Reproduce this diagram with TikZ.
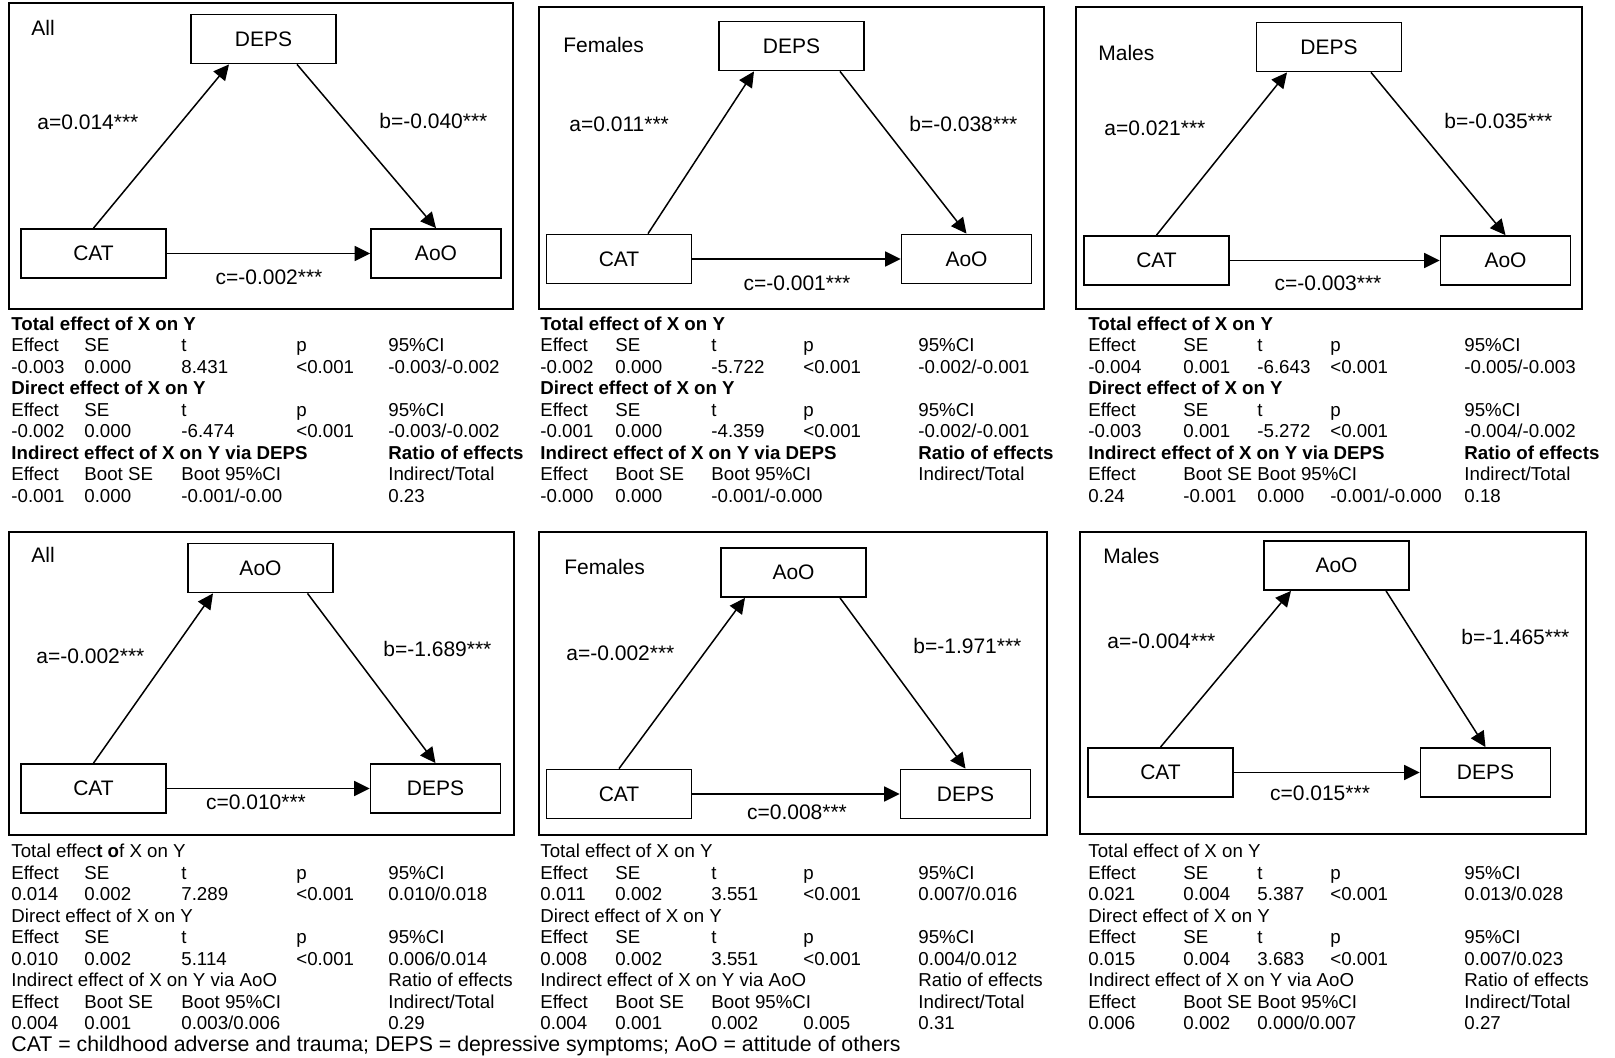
\documentclass[tikz,border=0pt]{standalone}
\usepackage{fontspec}
\setmainfont{Liberation Sans}
\usepackage{array}
\usetikzlibrary{arrows.meta}
\setlength{\tabcolsep}{0pt}
\newcolumntype{L}{@{}w{l}{36.5pt}w{l}{48.5pt}w{l}{57.5pt}w{l}{46pt}l@{}}
\newcolumntype{M}{@{}w{l}{37.5pt}w{l}{48pt}w{l}{46pt}w{l}{57.5pt}l@{}}
\newcolumntype{R}{@{}w{l}{47.5pt}w{l}{37pt}w{l}{36.5pt}w{l}{67pt}l@{}}
\begin{document}
\begin{tikzpicture}[x=0.5pt,y=-0.5pt,
		panel/.style={draw,line width=0.9pt},
		var/.style={draw,line width=0.9pt,minimum width=72.5pt,minimum height=24.5pt,inner sep=0pt,font=\fontsize{10.5}{12}\selectfont},
		outc/.style={var,minimum width=65pt},
		coef/.style={anchor=west,inner sep=0pt,font=\fontsize{10.5}{12}\selectfont},
		effarr/.style={-{Triangle[length=7.7pt,width=7.5pt]},line width=0.75pt},
		stats/.style={anchor=north west,inner sep=0pt,font=\fontsize{9.35}{10.75}\selectfont}]
	\path[use as bounding box,fill=white] (0,0) rectangle (1615,1057);

	\draw[panel] (9,3) rectangle (513,309);
	\node[coef] (gA) at (31,28) {All};
	\node[var] (depsA) at (263.5,39) {DEPS};
	\node[var] (catA) at (93.5,253.5) {CAT};
	\node[outc] (aooA) at (436,253.5) {AoO};
	\draw[effarr] (catA.north) -- ([xshift=-17.25pt]depsA.south);
	\draw[effarr] ([xshift=16.75pt]depsA.south) -- (aooA.north);
	\draw[effarr] (catA) -- (aooA);
	\node[coef] (aA) at (37,122) {a=0.014***};
	\node[coef] (bA) at (379,121) {b=-0.040***};
	\node[coef,anchor=center] (cA) at (269,277) {c=-0.002***};

	\draw[panel] (539,7) rectangle (1044,309);
	\node[coef] (gB) at (563,45) {Females};
	\node[var] (depsB) at (791.5,46) {DEPS};
	\node[var] (catB) at (619,259) {CAT};
	\node[outc] (aooB) at (966.5,259) {AoO};
	\draw[effarr] ([xshift=14.5pt]catB.north) -- ([xshift=-18.75pt]depsB.south);
	\draw[effarr] ([xshift=24.25pt]depsB.south) -- (aooB.north);
	\draw[effarr] (catB) -- (aooB);
	\node[coef] (aB) at (569,124) {a=0.011***};
	\node[coef] (bB) at (909,124) {b=-0.038***};
	\node[coef,anchor=center] (cB) at (797,283) {c=-0.001***};

	\draw[panel] (1076,7) rectangle (1582,309);
	\node[coef] (gC) at (1098,53) {Males};
	\node[var] (depsC) at (1329,47) {DEPS};
	\node[var] (catC) at (1156.5,260.5) {CAT};
	\node[outc] (aooC) at (1505.5,260.5) {AoO};
	\draw[effarr] (catC.north) -- ([xshift=-21pt]depsC.south);
	\draw[effarr] ([xshift=21pt]depsC.south) -- (aooC.north);
	\draw[effarr] (catC) -- (aooC);
	\node[coef] (aC) at (1104,128) {a=0.021***};
	\node[coef] (bC) at (1444,121) {b=-0.035***};
	\node[coef,anchor=center] (cC) at (1328,283) {c=-0.003***};

	\draw[panel] (9,532) rectangle (514,835);
	\node[coef] (gD) at (31,555) {All};
	\node[var] (aooD) at (260.5,568) {AoO};
	\node[var] (catD) at (93.5,788.5) {CAT};
	\node[outc] (depsD) at (435.5,788.5) {DEPS};
	\draw[effarr] (catD.north) -- ([xshift=-23.75pt]aooD.south);
	\draw[effarr] ([xshift=23.5pt]aooD.south) -- (depsD.north);
	\draw[effarr] (catD) -- (depsD);
	\node[coef] (aD) at (36,656) {a=-0.002***};
	\node[coef] (bD) at (383,649) {b=-1.689***};
	\node[coef,anchor=center] (cD) at (256,802) {c=0.010***};

	\draw[panel] (539,532) rectangle (1047,835);
	\node[coef] (gE) at (564,567) {Females};
	\node[var] (aooE) at (793.5,572.5) {AoO};
	\node[var] (catE) at (619,794) {CAT};
	\node[outc] (depsE) at (965.5,794) {DEPS};
	\draw[effarr] (catE.north) -- ([xshift=-24.25pt]aooE.south);
	\draw[effarr] ([xshift=23.25pt]aooE.south) -- (depsE.north);
	\draw[effarr] (catE) -- (depsE);
	\node[coef] (aE) at (566,653) {a=-0.002***};
	\node[coef] (bE) at (913,646) {b=-1.971***};
	\node[coef,anchor=center] (cE) at (797,812) {c=0.008***};

	\draw[panel] (1080,532) rectangle (1586,834);
	\node[coef] (gF) at (1103,556) {Males};
	\node[var] (aooF) at (1336.5,565.5) {AoO};
	\node[var] (catF) at (1160.5,772.5) {CAT};
	\node[outc] (depsF) at (1485.5,772.5) {DEPS};
	\draw[effarr] (catF.north) -- ([xshift=-22.75pt]aooF.south);
	\draw[effarr] ([xshift=24.75pt]aooF.south) -- (depsF.north);
	\draw[effarr] (catF) -- (depsF);
	\node[coef] (aF) at (1107,641) {a=-0.004***};
	\node[coef] (bF) at (1461,637) {b=-1.465***};
	\node[coef,anchor=center] (cF) at (1320,793) {c=0.015***};

	\node[stats] (stA) at (11,315) {\begin{tabular}{L}
		\multicolumn{5}{@{}l@{}}{\textbf{Total effect of X on Y}}\\
		Effect & SE & t & p & 95\%CI\\
		-0.003 & 0.000 & 8.431 & <0.001 & -0.003/-0.002\\
		\multicolumn{5}{@{}l@{}}{\textbf{Direct effect of X on Y}}\\
		Effect & SE & t & p & 95\%CI\\
		-0.002 & 0.000 & -6.474 & <0.001 & -0.003/-0.002\\
		\multicolumn{4}{@{}l}{\textbf{Indirect effect of X on Y via DEPS}} & \textbf{Ratio of effects}\\
		Effect & Boot SE & Boot 95\%CI & & Indirect/Total\\
		-0.001 & 0.000 & -0.001/-0.00 & & 0.23
	\end{tabular}};
	\node[stats] (stB) at (540,315) {\begin{tabular}{M}
		\multicolumn{5}{@{}l@{}}{\textbf{Total effect of X on Y}}\\
		Effect & SE & t & p & 95\%CI\\
		-0.002 & 0.000 & -5.722 & <0.001 & -0.002/-0.001\\
		\multicolumn{5}{@{}l@{}}{\textbf{Direct effect of X on Y}}\\
		Effect & SE & t & p & 95\%CI\\
		-0.001 & 0.000 & -4.359 & <0.001 & -0.002/-0.001\\
		\multicolumn{4}{@{}l}{\textbf{Indirect effect of X on Y via DEPS}} & \textbf{Ratio of effects}\\
		Effect & Boot SE & Boot 95\%CI & & Indirect/Total\\
		-0.000 & 0.000 & -0.001/-0.000 & &
	\end{tabular}};
	\node[stats] (stC) at (1088,315) {\begin{tabular}{R}
		\multicolumn{5}{@{}l@{}}{\textbf{Total effect of X on Y}}\\
		Effect & SE & t & p & 95\%CI\\
		-0.004 & 0.001 & -6.643 & <0.001 & -0.005/-0.003\\
		\multicolumn{5}{@{}l@{}}{\textbf{Direct effect of X on Y}}\\
		Effect & SE & t & p & 95\%CI\\
		-0.003 & 0.001 & -5.272 & <0.001 & -0.004/-0.002\\
		\multicolumn{4}{@{}l}{\textbf{Indirect effect of X on Y via DEPS}} & \textbf{Ratio of effects}\\
		Effect & Boot SE & Boot 95\%CI & & Indirect/Total\\
		0.24 & -0.001 & 0.000 & -0.001/-0.000 & 0.18
	\end{tabular}};

	\node[stats] (stD) at (11,842.5) {\begin{tabular}{L}
		\multicolumn{5}{@{}l@{}}{Total effec\textbf{t o}f X on Y}\\
		Effect & SE & t & p & 95\%CI\\
		0.014 & 0.002 & 7.289 & <0.001 & 0.010/0.018\\
		\multicolumn{5}{@{}l@{}}{Direct effect of X on Y}\\
		Effect & SE & t & p & 95\%CI\\
		0.010 & 0.002 & 5.114 & <0.001 & 0.006/0.014\\
		\multicolumn{4}{@{}l}{Indirect effect of X on Y via AoO} & Ratio of effects\\
		Effect & Boot SE & Boot 95\%CI & & Indirect/Total\\
		0.004 & 0.001 & 0.003/0.006 & & 0.29
	\end{tabular}};
	\node[stats] (stE) at (540,842.5) {\begin{tabular}{M}
		\multicolumn{5}{@{}l@{}}{Total effect of X on Y}\\
		Effect & SE & t & p & 95\%CI\\
		0.011 & 0.002 & 3.551 & <0.001 & 0.007/0.016\\
		\multicolumn{5}{@{}l@{}}{Direct effect of X on Y}\\
		Effect & SE & t & p & 95\%CI\\
		0.008 & 0.002 & 3.551 & <0.001 & 0.004/0.012\\
		\multicolumn{4}{@{}l}{Indirect effect of X on Y via AoO} & Ratio of effects\\
		Effect & Boot SE & Boot 95\%CI & & Indirect/Total\\
		0.004 & 0.001 & 0.002 & 0.005 & 0.31
	\end{tabular}};
	\node[stats] (stF) at (1088,842.5) {\begin{tabular}{R}
		\multicolumn{5}{@{}l@{}}{Total effect of X on Y}\\
		Effect & SE & t & p & 95\%CI\\
		0.021 & 0.004 & 5.387 & <0.001 & 0.013/0.028\\
		\multicolumn{5}{@{}l@{}}{Direct effect of X on Y}\\
		Effect & SE & t & p & 95\%CI\\
		0.015 & 0.004 & 3.683 & <0.001 & 0.007/0.023\\
		\multicolumn{4}{@{}l}{Indirect effect of X on Y via AoO} & Ratio of effects\\
		Effect & Boot SE & Boot 95\%CI & & Indirect/Total\\
		0.006 & 0.002 & 0.000/0.007 & & 0.27
	\end{tabular}};

	\node[anchor=base west,inner sep=0pt,font=\fontsize{10.65}{12}\selectfont] (note) at (11,1051.5) {CAT = childhood adverse and trauma; DEPS = depressive symptoms; AoO = attitude of others};
\end{tikzpicture}
\end{document}
